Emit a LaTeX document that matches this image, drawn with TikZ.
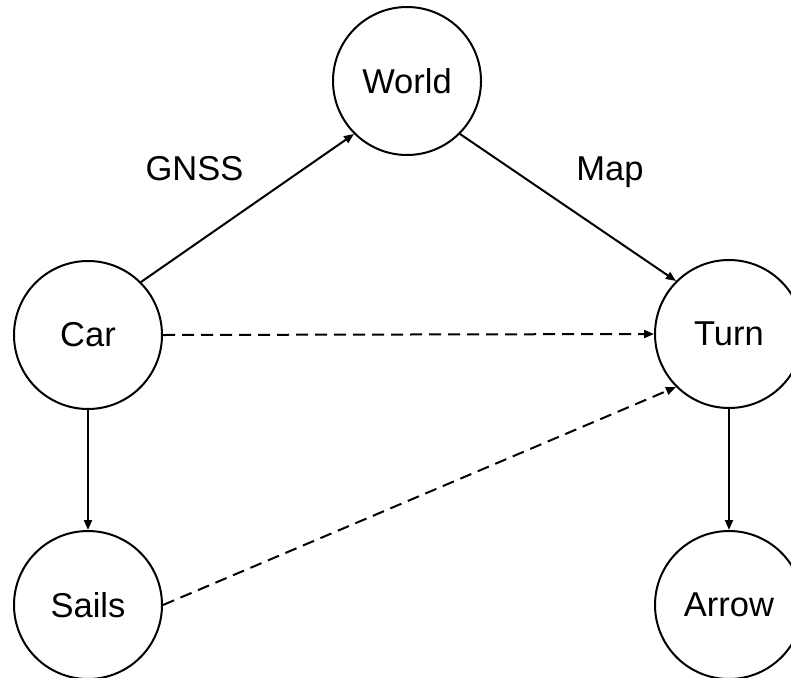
\documentclass[tikz,border=0pt]{standalone}
\usepackage{fontspec}
\setmainfont{Liberation Sans}
\usetikzlibrary{arrows.meta}

\begin{document}
\begin{tikzpicture}[x=1pt,y=-1pt,
  state/.style={draw=black, circle, line width=2pt, minimum size=148pt, inner sep=0pt,
    font=\fontsize{34.5}{40}\selectfont},
  lbl/.style={anchor=base, font=\fontsize{34.5}{40}\selectfont},
  link/.style={line width=2pt, -{Triangle[length=10pt,width=8pt]}},
  dlink/.style={link, dash pattern=on 12pt off 7pt}]
  \useasboundingbox (0,0) rectangle (791,677);

  % states
  \node[state] (world) at (407,81)  {World};
  \node[state] (car)   at (88,335)  {Car};
  \node[state] (turn)  at (729,334) {Turn};
  \node[state] (sails) at (88,605)  {Sails};
  \node[state] (arrow) at (729,605) {Arrow};

  % edge labels
  \node[lbl] (gnss) at (194.5,180) {GNSS};
  \node[lbl] (map)  at (610,180)   {Map};

  % solid links
  \draw[link] (car.45) -- (world.225);
  \draw[link] (world.-45) -- (turn.135);
  \draw[link] (car.south) -- (sails.north);
  \draw[link] (turn.south) -- (arrow.north);

  % dashed links
  \draw[dlink] (car.east) -- (turn.west);
  \draw[dlink] (sails.east) -- (turn.225);
\end{tikzpicture}
\end{document}
